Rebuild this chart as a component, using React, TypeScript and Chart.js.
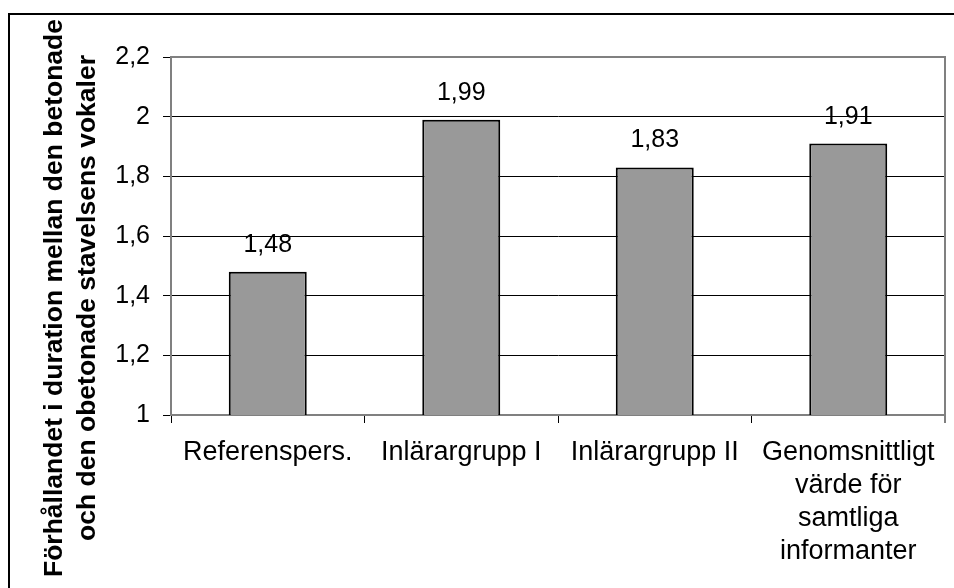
import React, { useEffect, useRef } from 'react';
import { Chart, registerables } from 'chart.js';

Chart.register(...registerables);

// Categories (multi-line labels are arrays)
const categories: string[][] = [
  ['Referenspers.'],
  ['Inlärargrupp I'],
  ['Inlärargrupp II'],
  ['Genomsnittligt', 'värde för', 'samtliga', 'informanter'],
];

// Duration ratio stressed / unstressed vowel
const ratios = [1.48, 1.99, 1.83, 1.91];

// Value axis range
const yMin = 1;
const yMax = 2.2;
const yStep = 0.2;

const yTitleLines = [
  'Förhållandet i duration mellan den betonade',
  'och den obetonade stavelsens vokaler',
];

const FONT = '"Liberation Sans", Arial, sans-serif';

const fmt = (v: number) => String(Math.round(v * 100) / 100).replace('.', ',');

const decorations = {
  id: 'decorations',
  afterDraw(chart: Chart) {
    const { ctx, chartArea } = chart;
    ctx.save();

    // outer frame
    ctx.strokeStyle = '#000';
    ctx.lineWidth = 2;
    ctx.strokeRect(9, 14, 2000, 2000);

    // plot area border (top and right)
    ctx.strokeStyle = '#808080';
    ctx.lineWidth = 2;
    ctx.beginPath();
    ctx.moveTo(chartArea.left, chartArea.top);
    ctx.lineTo(chartArea.right, chartArea.top);
    ctx.lineTo(chartArea.right, chartArea.bottom + 8);
    ctx.stroke();

    // value labels above bars
    const meta = chart.getDatasetMeta(0);
    ctx.fillStyle = '#000';
    ctx.font = `25px ${FONT}`;
    ctx.textAlign = 'center';
    ctx.textBaseline = 'alphabetic';
    meta.data.forEach((el: any, i: number) => {
      ctx.fillText(fmt(ratios[i]), el.x, el.y - 20);
    });

    // rotated axis title
    ctx.font = `bold 26.5px ${FONT}`;
    ctx.translate(0, 298);
    ctx.rotate(-Math.PI / 2);
    ctx.fillText(yTitleLines[0], 0, 62);
    ctx.fillText(yTitleLines[1], 0, 95);
    ctx.restore();
  },
};

export default function App() {
  const ref = useRef<HTMLCanvasElement>(null);

  useEffect(() => {
    if (!ref.current) return;
    const chart = new Chart(ref.current, {
      type: 'bar',
      data: {
        labels: categories,
        datasets: [
          {
            data: ratios,
            backgroundColor: '#999999',
            borderColor: '#000000',
            borderWidth: 2,
            borderSkipped: false,
            barPercentage: 0.403,
            categoryPercentage: 1,
          },
        ],
      },
      options: {
        animation: false,
        responsive: false,
        layout: { padding: { left: 8, top: 57, right: 9, bottom: 0 } },
        plugins: {
          legend: { display: false },
          tooltip: { enabled: false },
          title: { display: false },
        },
        scales: {
          x: {
            grid: {
              drawOnChartArea: false,
              drawTicks: true,
              tickLength: 8,
              color: '#000',
              offset: true,
            },
            border: { color: '#808080', width: 2 },
            ticks: {
              color: '#000',
              font: { family: FONT, size: 27, lineHeight: 33 / 27 },
              padding: 13,
              maxRotation: 0,
              autoSkip: false,
            },
            afterFit: (s: any) => {
              s.height = 588 - 415;
            },
          },
          y: {
            min: yMin,
            max: yMax,
            grid: { color: '#000', lineWidth: 1, tickLength: 8, tickColor: '#000' },
            border: { color: '#808080', width: 2 },
            ticks: {
              stepSize: yStep,
              color: '#000',
              font: { family: FONT, size: 25 },
              padding: 13,
              callback: (v: any) => fmt(Number(v)),
            },
            afterFit: (s: any) => {
              s.width = 171 - 8;
            },
          },
        },
      },
      plugins: [decorations],
    });
    return () => chart.destroy();
  }, []);

  return (
    <div style={{ position: 'absolute', left: 0, top: 0, width: 954, height: 588, background: '#fff' }}>
      <canvas ref={ref} width={954} height={588} />
    </div>
  );
}
